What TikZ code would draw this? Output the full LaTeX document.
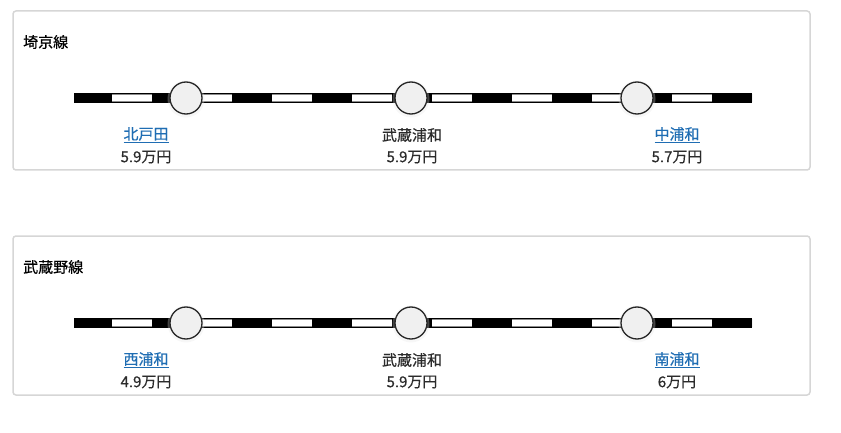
\documentclass[tikz,border=0pt]{standalone}
\usepackage{fontspec}
\setmainfont{Noto Sans CJK JP}[FakeBold=0.5]
\usetikzlibrary{positioning}

\definecolor{linkblue}{HTML}{1F6DB3}
\definecolor{boxgray}{HTML}{D6D6D6}
\definecolor{textgray}{HTML}{2B2B2B}

\tikzset{
  panel/.style={draw=boxgray, line width=1.5pt, rounded corners=3pt},
  station/.style={circle, draw=black!85, line width=1.3pt, fill=black!6,
    minimum size=32pt, inner sep=0pt},
  halo/.style={circle, fill=black!10, opacity=0.3, minimum size=37pt, inner sep=0pt},
  linename/.style={anchor=west, inner sep=0pt, text=black,
    font=\fontsize{15}{17}\selectfont},
  stname/.style={inner sep=0pt, text=linkblue, font=\fontsize{15}{17}\selectfont},
  stplain/.style={inner sep=0pt, text=textgray, font=\fontsize{15}{17}\selectfont},
  price/.style={inner sep=0pt, text=textgray, font=\fontsize{15}{17}\selectfont},
  railbase/.style={line width=10pt, black},
  railedge/.style={line width=8pt, black!45, dash pattern=on 40pt off 40pt, dash phase=40pt},
  railwhite/.style={line width=6pt, white, dash pattern=on 40pt off 40pt, dash phase=40pt},
}

\begin{document}
\begin{tikzpicture}[x=1pt, y=-1pt]
\useasboundingbox (0,0) rectangle (841,433);

% 埼京線
\draw[panel] (13,11) rectangle (810,170);
\node[linename] (saikyo) at (23,42) {埼京線};
\coordinate (saikyoW) at (74,98);
\coordinate (saikyoE) at (752,98);
\draw[railbase] (saikyoW) -- (saikyoE);
\draw[railedge] ([xshift=-2pt]saikyoW) -- (saikyoE);
\draw[railwhite] ([xshift=-2pt]saikyoW) -- (saikyoE);
\node[halo] at (186,99) {};
\node[halo] at (411,99) {};
\node[halo] at (637,99) {};
\node[station] (kitatoda) at (186,98) {};
\node[station] (musashiurawaA) at (411,98) {};
\node[station] (nakaurawa) at (637,98) {};
\node[stname] (kitatodaName) at (146,135) {\underline{北戸田}};
\node[price] at (146,157) {5.9万円};
\node[stplain] (musashiurawaAName) at (412,135) {武蔵浦和};
\node[price] at (412,157) {5.9万円};
\node[stname] (nakaurawaName) at (677,135) {\underline{中浦和}};
\node[price] at (677,157) {5.7万円};

% 武蔵野線
\draw[panel] (13,236) rectangle (810,395);
\node[linename] (musashino) at (23,267) {武蔵野線};
\coordinate (musashinoW) at (74,323);
\coordinate (musashinoE) at (752,323);
\draw[railbase] (musashinoW) -- (musashinoE);
\draw[railedge] ([xshift=-2pt]musashinoW) -- (musashinoE);
\draw[railwhite] ([xshift=-2pt]musashinoW) -- (musashinoE);
\node[halo] at (186,324) {};
\node[halo] at (411,324) {};
\node[halo] at (637,324) {};
\node[station] (nishiurawa) at (186,323) {};
\node[station] (musashiurawaB) at (411,323) {};
\node[station] (minamiurawa) at (637,323) {};
\node[stname] (nishiurawaName) at (146,360) {\underline{西浦和}};
\node[price] at (146,382) {4.9万円};
\node[stplain] (musashiurawaBName) at (412,360) {武蔵浦和};
\node[price] at (412,382) {5.9万円};
\node[stname] (minamiurawaName) at (677,360) {\underline{南浦和}};
\node[price] at (677,382) {6万円};

\end{tikzpicture}
\end{document}
